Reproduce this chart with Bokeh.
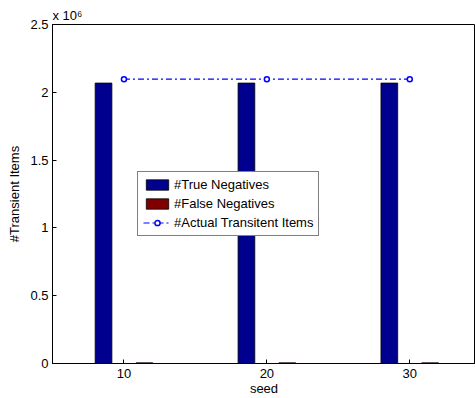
from bokeh.plotting import figure
from bokeh.models import ColumnDataSource, Range1d, FixedTicker, CustomJSTickFormatter, Legend, LegendItem
from bokeh.transform import dodge
from bokeh.embed import file_html
from bokeh.resources import INLINE

seeds = [10, 20, 30]
true_negatives = [2.068e6, 2.068e6, 2.068e6]
false_negatives = [5000, 5000, 5000]
actual_transient = [2.097e6, 2.097e6, 2.097e6]
x_ticks = [10, 20, 30]
y_ticks = [0, 0.5e6, 1.0e6, 1.5e6, 2.0e6, 2.5e6]

src = ColumnDataSource(dict(seed=seeds, tn=true_negatives, fn=false_negatives, act=actual_transient))

FONT = "Liberation Sans"
FS = "13px"

p = figure(width=475, height=398, output_backend="svg", toolbar_location=None,
           x_range=Range1d(5, 34.6), y_range=Range1d(0, 2.5e6),
           min_border_left=52, min_border_right=0, min_border_top=24, min_border_bottom=35,
           x_axis_label="seed", y_axis_label="#Transient Items")
p.outline_line_color = "black"
p.outline_line_width = 1
p.outline_line_alpha = 1
p.grid.visible = False
p.background_fill_color = "white"
p.border_fill_color = "white"

p.title.text = "x 10\u2076"
p.title.align = "left"
p.title.text_font = FONT
p.title.text_font_size = FS
p.title.text_font_style = "normal"
p.title.text_color = "black"
p.title.standoff = 4
p.title.offset = 0

tn = p.vbar(x=dodge('seed', -1.43, range=p.x_range), top='tn', width=1.17, source=src,
            fill_color="#00008F", line_color="black", line_width=0.8)
fn = p.vbar(x=dodge('seed', 1.43, range=p.x_range), top='fn', width=1.17, source=src,
            fill_color="#800000", line_color="black", line_width=0.8)
ln = p.line(x='seed', y='act', source=src, line_color="#0000FF", line_width=1.2, line_dash="6 3 2 3")
mk = p.scatter(x='seed', y='act', source=src, marker="circle", size=5, line_color="#0000FF",
               fill_color="white", line_width=1.5)

for ax in [p.xaxis[0], p.yaxis[0]]:
    ax.major_tick_in = 4
    ax.major_tick_out = 0
    ax.minor_tick_line_color = None
    ax.axis_line_color = "black"
    ax.major_label_text_font = FONT
    ax.major_label_text_font_size = FS
    ax.major_label_text_color = "black"
    ax.axis_label_text_font = FONT
    ax.axis_label_text_font_size = FS
    ax.axis_label_text_font_style = "normal"
    ax.axis_label_text_color = "black"

p.xaxis[0].ticker = FixedTicker(ticks=x_ticks)
p.xaxis[0].major_label_standoff = 5
p.xaxis[0].axis_label_standoff = 0
p.yaxis[0].ticker = FixedTicker(ticks=y_ticks)
p.yaxis[0].formatter = CustomJSTickFormatter(code="return (tick/1e6).toString();")
p.yaxis[0].major_label_standoff = 4
p.yaxis[0].axis_label_standoff = 5

legend = Legend(items=[
    LegendItem(label="#True Negatives", renderers=[tn]),
    LegendItem(label="#False Negatives", renderers=[fn]),
    LegendItem(label="#Actual Transitent Items", renderers=[ln, mk]),
], location=(85, 127))
legend.label_text_font = FONT
legend.label_text_font_size = FS
legend.label_text_color = "black"
legend.border_line_color = "black"
legend.border_line_width = 1
legend.background_fill_alpha = 1
legend.glyph_width = 28
legend.glyph_height = 13
legend.label_standoff = 3
legend.spacing = 4
legend.padding = 5
legend.margin = 0
legend.label_height = 15
p.add_layout(legend, "center")

open("out.html", "w").write(file_html(p, INLINE))
